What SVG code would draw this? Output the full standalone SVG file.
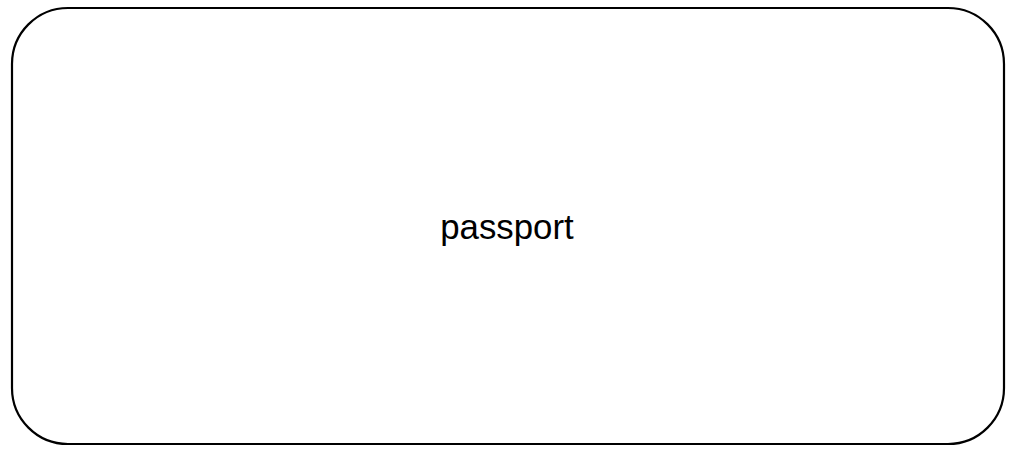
<svg xmlns="http://www.w3.org/2000/svg" width="1018" height="456" viewBox="0 0 1018 456">
<style>
.node rect{fill:#ffffff;stroke:#000000;stroke-width:2.2}
.label{font-family:"Liberation Sans",Arial,sans-serif;font-size:34.8px;fill:#000000;text-anchor:middle}
</style>
<rect width="1018" height="456" fill="#ffffff"/>
<g id="connectors"></g>
<g id="passport" class="node">
<rect x="12" y="8" width="992" height="436" rx="56" ry="56"/>
<text class="label" x="507" y="239">passport</text>
</g>
</svg>
